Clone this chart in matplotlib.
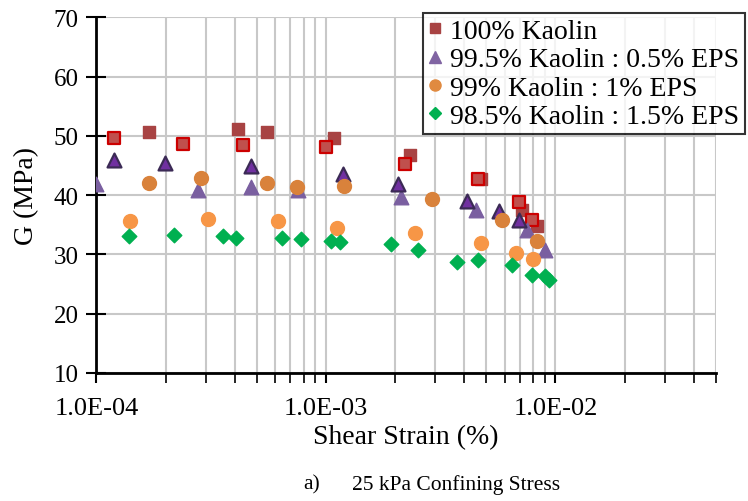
import numpy as np
import matplotlib
matplotlib.use("Agg")
import matplotlib.pyplot as plt
from matplotlib.ticker import FixedLocator, LogLocator, NullFormatter
from matplotlib.lines import Line2D

plt.rcParams['font.family'] = ['Liberation Serif', 'DejaVu Serif']

# 100% Kaolin (two tests)
k100_a_x = [1.19e-4, 2.38e-4, 4.34e-4, 1.0e-3, 2.2e-3, 4.58e-3, 6.93e-3, 7.93e-3]
k100_a_y = [49.7, 48.7, 48.5, 48.1, 45.3, 42.75, 38.8, 35.8]
k100_b_x = [1.69e-4, 4.14e-4, 5.52e-4, 1.08e-3, 2.32e-3, 4.72e-3, 7.14e-3, 8.28e-3]
k100_b_y = [50.6, 51.2, 50.7, 49.7, 46.8, 42.65, 37.5, 34.8]

# 99.5% Kaolin : 0.5% EPS
k995_a_x = [1.19e-4, 1.98e-4, 4.73e-4, 1.19e-3, 2.05e-3, 4.13e-3, 5.69e-3, 6.93e-3]
k995_a_y = [46.0, 45.5, 45.0, 43.6, 41.85, 38.95, 37.3, 35.8]
k995_b_x = [1.0e-4, 2.77e-4, 4.73e-4, 7.57e-4, 2.12e-3, 4.52e-3, 7.5e-3, 8.98e-3]
k995_b_y = [41.8, 40.8, 41.35, 40.9, 39.7, 37.45, 34.2, 30.7]

# 99% Kaolin : 1% EPS
k99_a_x = [1.69e-4, 2.86e-4, 5.52e-4, 7.5e-4, 1.2e-3, 2.9e-3, 5.85e-3, 8.35e-3]
k99_a_y = [42.0, 42.9, 42.0, 41.35, 41.5, 39.35, 35.8, 32.25]
k99_b_x = [1.4e-4, 3.07e-4, 6.19e-4, 1.12e-3, 2.44e-3, 4.73e-3, 6.73e-3, 7.98e-3]
k99_b_y = [35.7, 36.0, 35.7, 34.5, 33.6, 31.85, 30.2, 29.15]

# 98.5% Kaolin : 1.5% EPS
k985_x = [1.39e-4, 2.18e-4, 3.56e-4, 4.06e-4, 6.41e-4, 7.78e-4, 1.05e-3, 1.15e-3,
          1.92e-3, 2.52e-3, 3.72e-3, 4.61e-3, 6.49e-3, 7.93e-3, 9.0e-3, 9.37e-3]
k985_y = [33.1, 33.25, 33.1, 32.8, 32.7, 32.65, 32.3, 32.1,
          31.8, 30.7, 28.8, 29.05, 28.15, 26.55, 26.35, 25.75]

labels = ['100% Kaolin', '99.5% Kaolin : 0.5% EPS',
          '99% Kaolin : 1% EPS', '98.5% Kaolin : 1.5% EPS']

fig = plt.figure(figsize=(7.48, 5.02), dpi=100)
ax = fig.add_axes([0.129, 0.255, 0.828, 0.7085])

ax.scatter(k100_b_x, k100_b_y, marker='s', s=80, color='#a84343', zorder=3)
ax.scatter(k100_a_x, k100_a_y, marker='s', s=75, facecolor='#c0504d',
           edgecolor='#cc0000', linewidth=1.6, zorder=3)
ax.scatter(k995_b_x, k995_b_y, marker='^', s=110, color='#7a5fa0', zorder=3)
ax.scatter(k995_a_x, k995_a_y, marker='^', s=100, facecolor='#7030a0',
           edgecolor='#3b2a55', linewidth=1.6, zorder=3)
ax.scatter(k99_a_x, k99_a_y, marker='o', s=100, color='#d9823b', zorder=3)
ax.scatter(k99_b_x, k99_b_y, marker='o', s=100, color='#f79646', zorder=3)
ax.scatter(k985_x, k985_y, marker='D', s=55, color='#00b050', zorder=3)

ax.set_xscale('log')
ax.set_xlim(1e-4, 5e-2)
ax.set_ylim(10, 70)
ax.yaxis.set_major_locator(FixedLocator(np.arange(10, 71, 10)))
ax.xaxis.set_major_locator(FixedLocator([1e-4, 1e-3, 1e-2]))
ax.xaxis.set_minor_locator(LogLocator(base=10, subs=np.arange(2, 10)))
ax.xaxis.set_minor_formatter(NullFormatter())
ax.set_xticklabels(['1.0E-04', '1.0E-03', '1.0E-02'])

ax.grid(True, which='both', color='#c8c8c8', linewidth=1.5, zorder=0)
ax.set_axisbelow(True)
for s in ['top', 'right']:
    ax.spines[s].set_visible(False)
for s in ['left', 'bottom']:
    ax.spines[s].set_linewidth(2)
ax.tick_params(axis='y', direction='inout', length=14, width=1.5, labelsize=18, pad=6)
ax.tick_params(axis='x', which='major', direction='out', length=7, width=1.5,
               labelsize=19, pad=10)
ax.tick_params(axis='x', which='minor', direction='out', length=7, width=1.2)

ax.set_xlabel('Shear Strain (%)', fontsize=20, labelpad=4)
ax.set_ylabel('G (MPa)', fontsize=20, labelpad=10)

handles = [
    Line2D([], [], marker='s', linestyle='none', color='#a84343', markersize=7),
    Line2D([], [], marker='^', linestyle='none', color='#8064a2', markersize=8),
    Line2D([], [], marker='o', linestyle='none', color='#e08a40', markersize=8),
    Line2D([], [], marker='D', linestyle='none', color='#00b050', markersize=6),
]
leg = fig.legend(handles, labels, loc='upper right', bbox_to_anchor=(0.996, 0.972),
                 fontsize=20, frameon=True, fancybox=False, edgecolor='black',
                 handlelength=0.5, handletextpad=0.3, borderpad=0.2,
                 labelspacing=0.1, borderaxespad=0)
leg.get_frame().set_linewidth(1.5)

fig.text(0.405, 0.024, 'a)', fontsize=15.5)
fig.text(0.470, 0.024, '25 kPa Confining Stress', fontsize=15.5)

fig.savefig('out.png', dpi=100)
